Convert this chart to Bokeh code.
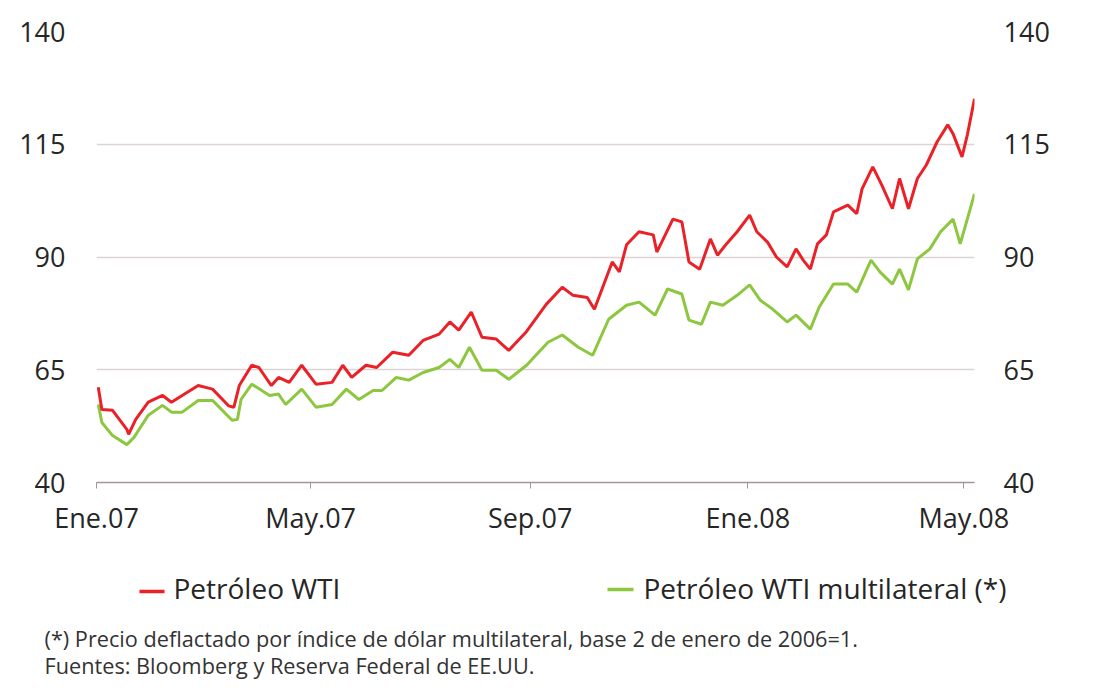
import pandas as pd
from bokeh.plotting import figure
from bokeh.layouts import column
from bokeh.models import ColumnDataSource, FixedTicker, LinearAxis, Range1d
from bokeh.core.properties import value
from bokeh.embed import file_html
from bokeh.resources import INLINE

# ---------------- data ----------------
red_dates = ["2007-01-02", "2007-01-04", "2007-01-10", "2007-01-18", "2007-01-19", "2007-01-23",
             "2007-01-30", "2007-02-07", "2007-02-12", "2007-02-18", "2007-02-27", "2007-03-07",
             "2007-03-16", "2007-03-19", "2007-03-22", "2007-03-29", "2007-04-02", "2007-04-09",
             "2007-04-13", "2007-04-19", "2007-04-26", "2007-05-04", "2007-05-13", "2007-05-19",
             "2007-05-24", "2007-06-01", "2007-06-07", "2007-06-16", "2007-06-25", "2007-07-03",
             "2007-07-12", "2007-07-18", "2007-07-23", "2007-07-30", "2007-08-05", "2007-08-13",
             "2007-08-20", "2007-08-30", "2007-09-10", "2007-09-19", "2007-09-25", "2007-10-03",
             "2007-10-07", "2007-10-17", "2007-10-21", "2007-10-25", "2007-11-01", "2007-11-09",
             "2007-11-11", "2007-11-20", "2007-11-25", "2007-11-29", "2007-12-05", "2007-12-11",
             "2007-12-15", "2007-12-20", "2007-12-26", "2008-01-02", "2008-01-06", "2008-01-12",
             "2008-01-17", "2008-01-23", "2008-01-28", "2008-02-01", "2008-02-05", "2008-02-09",
             "2008-02-14", "2008-02-18", "2008-02-26", "2008-03-02", "2008-03-05", "2008-03-11",
             "2008-03-16", "2008-03-22", "2008-03-26", "2008-03-31", "2008-04-05", "2008-04-10",
             "2008-04-16", "2008-04-22", "2008-04-25", "2008-04-30", "2008-05-03", "2008-05-07"]
red_values = [61.1, 56.2, 56.0, 51.8, 50.7, 54.0,
              57.8, 59.3, 57.8, 59.3, 61.5, 60.7,
              57.0, 56.7, 61.5, 66.0, 65.5, 61.5,
              63.3, 62.2, 66.0, 61.8, 62.2, 66.0,
              63.3, 66.0, 65.5, 68.9, 68.2, 71.5,
              72.9, 75.6, 73.8, 77.8, 72.2, 71.8,
              69.3, 73.5, 79.5, 83.3, 81.5, 81.0,
              78.4, 88.9, 86.7, 92.7, 95.6, 94.9,
              91.1, 98.4, 97.8, 88.9, 87.3, 94.0,
              90.4, 92.9, 95.6, 99.3, 95.6, 93.3,
              90.0, 87.8, 91.8, 89.3, 87.3, 92.9,
              94.9, 100.0, 101.5, 99.6, 105.1, 110.0,
              106.0, 100.7, 107.4, 100.7, 107.4, 110.4,
              115.5, 119.3, 117.3, 112.2, 117.1, 125.1]

green_dates = ["2007-01-02", "2007-01-04", "2007-01-10", "2007-01-18", "2007-01-22", "2007-01-30",
               "2007-02-07", "2007-02-12", "2007-02-18", "2007-02-27", "2007-03-07", "2007-03-18",
               "2007-03-21", "2007-03-23", "2007-03-29", "2007-04-08", "2007-04-13", "2007-04-17",
               "2007-04-26", "2007-05-04", "2007-05-13", "2007-05-21", "2007-05-28", "2007-06-05",
               "2007-06-10", "2007-06-18", "2007-06-25", "2007-07-03", "2007-07-12", "2007-07-18",
               "2007-07-23", "2007-07-29", "2007-08-05", "2007-08-13", "2007-08-20", "2007-08-30",
               "2007-09-11", "2007-09-19", "2007-09-28", "2007-10-06", "2007-10-15", "2007-10-25",
               "2007-11-01", "2007-11-10", "2007-11-17", "2007-11-25", "2007-11-29", "2007-12-06",
               "2007-12-11", "2007-12-18", "2007-12-26", "2008-01-02", "2008-01-08", "2008-01-15",
               "2008-01-23", "2008-01-28", "2008-02-05", "2008-02-10", "2008-02-18", "2008-02-26",
               "2008-03-02", "2008-03-10", "2008-03-15", "2008-03-22", "2008-03-26", "2008-03-31",
               "2008-04-05", "2008-04-12", "2008-04-18", "2008-04-25", "2008-04-29", "2008-05-07"]
green_values = [57.3, 53.3, 50.4, 48.4, 50.0, 54.9,
                57.1, 55.6, 55.6, 58.2, 58.2, 53.8,
                54.0, 58.4, 61.8, 59.3, 59.6, 57.3,
                60.7, 56.7, 57.3, 60.7, 58.4, 60.4,
                60.4, 63.3, 62.7, 64.4, 65.5, 67.3,
                65.5, 70.0, 64.9, 64.9, 62.9, 66.0,
                71.1, 72.7, 70.0, 68.2, 76.2, 79.3,
                80.0, 77.1, 82.9, 81.8, 76.0, 75.1,
                80.0, 79.3, 81.5, 83.8, 80.4, 78.4,
                75.6, 77.1, 74.0, 78.9, 84.0, 84.0,
                82.2, 89.3, 86.7, 84.0, 87.3, 82.7,
                89.6, 91.8, 95.6, 98.4, 92.9, 104.0]

tick_dates = ["2007-01-01", "2007-05-01", "2007-09-01", "2008-01-01", "2008-05-01"]
tick_labels = ["Ene.07", "May.07", "Sep.07", "Ene.08", "May.08"]
y_ticks = [40, 65, 90, 115, 140]

series_names = ["Petróleo WTI", "Petróleo WTI multilateral (*)"]
footnotes = ["(*) Precio deflactado por índice de dólar multilateral, base 2 de enero de 2006=1.",
             "Fuentes: Bloomberg y Reserva Federal de EE.UU."]

# ---------------- helpers ----------------
def to_ms(dates):
    return [pd.Timestamp(d).value / 1e6 for d in dates]

RED = "#ea2127"
GREEN = "#8dc63f"
TXT = "#262626"
FONT = "Open Sans"
W = 1078

red_src = ColumnDataSource(dict(x=to_ms(red_dates), y=red_values))
green_src = ColumnDataSource(dict(x=to_ms(green_dates), y=green_values))

x_start = pd.Timestamp("2007-01-01").value / 1e6
x_end = pd.Timestamp("2008-05-07").value / 1e6

# ---------------- main chart ----------------
p = figure(width=W, height=545, output_backend="svg", toolbar_location=None,
           x_range=Range1d(x_start, x_end), y_range=Range1d(40, 140),
           min_border_left=96, min_border_right=104, min_border_top=31, min_border_bottom=63)
p.outline_line_color = None
p.frame_align = False

p.line("x", "y", source=green_src, line_color=GREEN, line_width=3)
p.line("x", "y", source=red_src, line_color=RED, line_width=3)

tick_ms = to_ms(tick_dates)
xa = p.xaxis[0]
xa.ticker = FixedTicker(ticks=tick_ms)
xa.major_label_overrides = {t: lab for t, lab in zip(tick_ms, tick_labels)}
xa.minor_tick_line_color = None
xa.major_tick_in = 0
xa.major_tick_out = 6
xa.major_tick_line_color = "#a09898"
xa.axis_line_color = "#a09898"
xa.axis_line_width = 1.5
xa.major_label_text_font = FONT
xa.major_label_text_font_size = "27px"
xa.major_label_text_color = TXT
xa.major_label_standoff = 10


def style_y(ax):
    ax.ticker = FixedTicker(ticks=y_ticks)
    ax.axis_line_color = None
    ax.major_tick_line_color = None
    ax.minor_tick_line_color = None
    ax.major_label_text_font = FONT
    ax.major_label_text_font_size = "27px"
    ax.major_label_text_color = TXT


style_y(p.yaxis[0])
p.yaxis[0].major_label_standoff = 25
ry = LinearAxis()
style_y(ry)
ry.major_label_standoff = 23
p.add_layout(ry, "right")

p.xgrid.grid_line_color = None
p.ygrid.ticker = FixedTicker(ticks=y_ticks)
p.ygrid.grid_line_color = "#dcd4d4"
p.ygrid.grid_line_width = 1.5

# ---------------- legend + footnotes panel (pixel coordinates) ----------------
H2 = 140
q = figure(width=W, height=H2, output_backend="svg", toolbar_location=None,
           x_range=Range1d(0, W), y_range=Range1d(0, H2),
           x_axis_location=None, y_axis_location=None,
           min_border_left=0, min_border_right=0, min_border_top=0, min_border_bottom=0)
q.grid.grid_line_color = None
q.outline_line_color = None
q.frame_align = False

q.segment(x0=[139, 607], y0=[94, 96], x1=[164, 633], y1=[94, 96],
          line_color=[RED, GREEN], line_width=3.5)
leg_src = ColumnDataSource(dict(x=[173, 643], y=[98, 98], t=series_names))
q.text(x="x", y="y", text="t", source=leg_src, text_font=value(FONT),
       text_font_size="28px", text_color=TXT, text_baseline="alphabetic")
fn_src = ColumnDataSource(dict(x=[44, 44], y=[47, 20], t=footnotes))
q.text(x="x", y="y", text="t", source=fn_src, text_font=value(FONT),
       text_font_size="21.7px", text_color="#333333", text_baseline="alphabetic")

layout = column(p, q, spacing=0)
open("out.html", "w").write(file_html(layout, INLINE))
